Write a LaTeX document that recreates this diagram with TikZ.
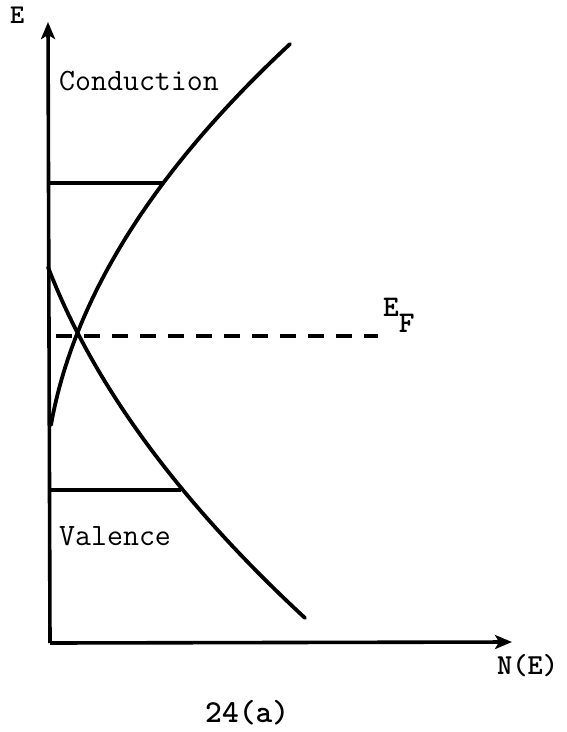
\documentclass[tikz,border=0pt]{standalone}
\usetikzlibrary{arrows.meta}
\begin{document}
\begin{tikzpicture}[x=1pt,y=-1pt,
  axis/.style={line width=3.6pt,-{Stealth[length=17pt,width=14pt,inset=4pt]}},
  curve/.style={line width=3.8pt,line cap=round,line join=round},
  level/.style={line width=3.6pt},
  fermi/.style={line width=3.3pt,dash pattern=on 16pt off 12pt},
  lbl/.style={inner sep=0pt,font=\fontsize{31}{36}\selectfont\ttfamily}]
\useasboundingbox (0,0) rectangle (566,732);
% axes
\coordinate (O) at (50,643);
\coordinate (Etop) at (48,22);
\coordinate (Nend) at (512,642);
\draw[axis] (O) -- (Etop);
\draw[axis] (O) -- (Nend);
% band curves
\coordinate (c0) at (51,425);
\coordinate (c1) at (290,44);
\coordinate (v0) at (48,267);
\coordinate (v1) at (305,618);
\draw[curve] (c0) .. controls (73.6,298) and (153.6,171) .. (c1);
\draw[curve] (v0) .. controls (92.9,384) and (178.6,501) .. (v1);
% levels
\coordinate (cl) at (50,183);
\coordinate (cr) at (163,183);
\coordinate (vl) at (51,490);
\coordinate (vr) at (181,490);
\draw[level] (cl) -- (cr);
\draw[level] (vl) -- (vr);
% Fermi level
\coordinate (fl) at (56,336);
\coordinate (fr) at (378,336);
\draw[fermi] (fl) -- (fr);
% labels
\node[lbl,anchor=base west] (cond) at (59,90) {Conduction};
\node[lbl,anchor=base west] (val) at (59,545) {Valence};
\node[inner sep=0pt,anchor=base west,font=\fontsize{27}{30}\selectfont\ttfamily\bfseries] (Elab) at (10,23) {E};
\node[inner sep=0pt,anchor=base west,font=\fontsize{29}{33}\selectfont\ttfamily\bfseries] (NE) at (497,674) {N(E)};
\node[inner sep=0pt,anchor=base west,font=\fontsize{32}{36}\selectfont\ttfamily\bfseries] (cap) at (205,722) {24(a)};
\node[inner sep=0pt,anchor=base west,font=\fontsize{30}{33}\selectfont\ttfamily\bfseries] (EF) at (383,316) {E\raisebox{-16pt}{F}};
\end{tikzpicture}
\end{document}
